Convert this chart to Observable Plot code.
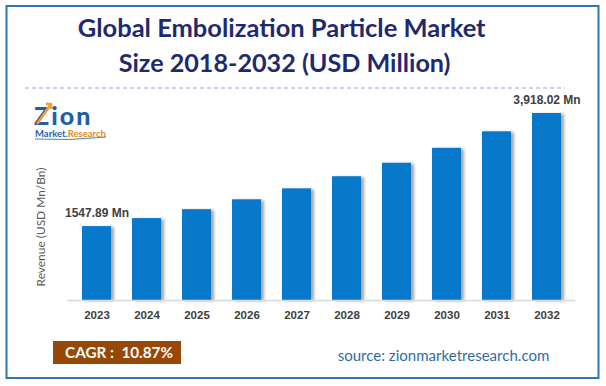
<!DOCTYPE html>
<html><head><meta charset="utf-8">
<script src="https://cdn.jsdelivr.net/npm/d3@7"></script>
<script src="https://cdn.jsdelivr.net/npm/@observablehq/plot@0.6"></script>
<style>
html,body{margin:0;padding:0;background:#fff;}
#chart{width:606px;height:386px;position:relative;}
.bars rect{filter:drop-shadow(3px 1px 1.5px rgba(0,0,0,0.35));}
svg [aria-label="x-axis tick label"] text{font-weight:bold;fill:#404040;font-size:11.5px;font-family:"Liberation Sans",sans-serif;}
</style></head><body><div id="chart"></div>
<script>
const years = ["2023","2024","2025","2026","2027","2028","2029","2030","2031","2032"];
const revenue = [1547.89, 1716, 1903, 2110, 2339, 2593, 2875, 3188, 3534, 3918.02];
const valueLabels = ["1547.89 Mn","","","","","","","","","3,918.02 Mn"];
const titleLines = ["Global Embolization Particle Market","Size 2018-2032 (USD Million)"];
const yLabel = "Revenue (USD Mn/Bn)";
const cagrText = "CAGR :  10.87%";
const sourceText = "source: zionmarketresearch.com";

const data = years.map((y, i) => ({year: y, value: revenue[i], label: valueLabels[i]}));

const svg = Plot.plot({
  width: 606, height: 386,
  marginLeft: 67, marginRight: 31, marginTop: 85.2, marginBottom: 86,
  style: {fontFamily: "Lato, sans-serif", background: "white", overflow: "visible"},
  x: {domain: years, paddingInner: 0.4285, paddingOuter: 0.22, label: null, tickSize: 0, tickPadding: 10},
  y: {domain: [0, 4500], axis: null},
  marks: [
    Plot.barY(data, {x: "year", y: "value", fill: "#0878CA", className: "bars"}),
    Plot.ruleY([0], {stroke: "#d9d9d9", strokeWidth: 1.5}),
    Plot.text(data.filter(d => d.label), {x: "year", y: "value", text: "label", dy: -13, fontSize: 12, fontWeight: "bold", fill: "#404040", fontFamily: "Liberation Sans, sans-serif"})
  ]
});
document.getElementById("chart").appendChild(svg);

const s = d3.select(svg);
function addText(str, o) {
  const t = s.append("text")
    .attr("x", o.x).attr("y", o.y)
    .attr("text-anchor", o.anchor || "middle")
    .attr("font-family", o.family || "Lato, sans-serif")
    .attr("font-weight", o.weight || "normal")
    .attr("font-size", o.size)
    .attr("fill", o.fill || "#000");
  if (o.spacing) t.attr("letter-spacing", o.spacing);
  if (o.rotate) t.attr("transform", `rotate(${o.rotate},${o.x},${o.y})`);
  if (o.parts) {
    o.parts.forEach(p => t.append("tspan").attr("fill", p[1]).text(p[0]));
  } else t.text(str);
  if (o.width) {
    const w = t.node().getComputedTextLength();
    if (w > 0) t.attr("font-size", o.size * o.width / w);
  }
  return t;
}

// title
addText(titleLines[0], {x: 281.7, y: 37.3, size: 23, weight: "bold", fill: "#1F2A6E", width: 408});
addText(titleLines[1], {x: 284.6, y: 71.7, size: 23, weight: "bold", fill: "#1F2A6E", width: 332});

// dashed separator
s.append("line").attr("x1", 25).attr("x2", 565).attr("y1", 88).attr("y2", 88)
  .attr("stroke", "#8FAADC").attr("stroke-width", 1).attr("stroke-dasharray", "4,3");

// logo
addText(null, {x: 34, y: 125, size: 25, weight: "900", anchor: "start", spacing: 2,
  parts: [["Z", "#1F5FA8"], ["i", "#1F5FA8"], ["o", "#1F5FA8"], ["n", "#1F5FA8"]]});
s.append("path").attr("d", "M37,124 L51,104 M46,104 L51,104 L51,109")
  .attr("stroke", "#F0A030").attr("stroke-width", 2.5).attr("fill", "none");
addText(null, {x: 35, y: 137, size: 9, weight: "bold", anchor: "start", width: 71,
  parts: [["Market.", "#1F5FA8"], ["Research", "#E8891C"]]});
s.append("path").attr("d", "M35,139 Q70,141 106,137").attr("stroke", "#1F5FA8")
  .attr("stroke-width", 0.8).attr("fill", "none");

// y label
addText(yLabel, {x: 45, y: 227, size: 12, fill: "#595959", rotate: -90, width: 119});

// CAGR box
s.append("rect").attr("x", 53).attr("y", 341).attr("width", 128).attr("height", 23).attr("fill", "#974806");
addText(cagrText, {x: 119, y: 358.3, size: 15, weight: "bold", fill: "#fff", width: 108});

// source
addText(sourceText, {x: 443.5, y: 361, size: 15, fill: "#2E6DA4", width: 212});

// border
s.append("rect").attr("x", 6.5).attr("y", 6).attr("width", 592).attr("height", 372)
  .attr("fill", "none").attr("stroke", "#2E75B6").attr("stroke-width", 2);
</script></body></html>
